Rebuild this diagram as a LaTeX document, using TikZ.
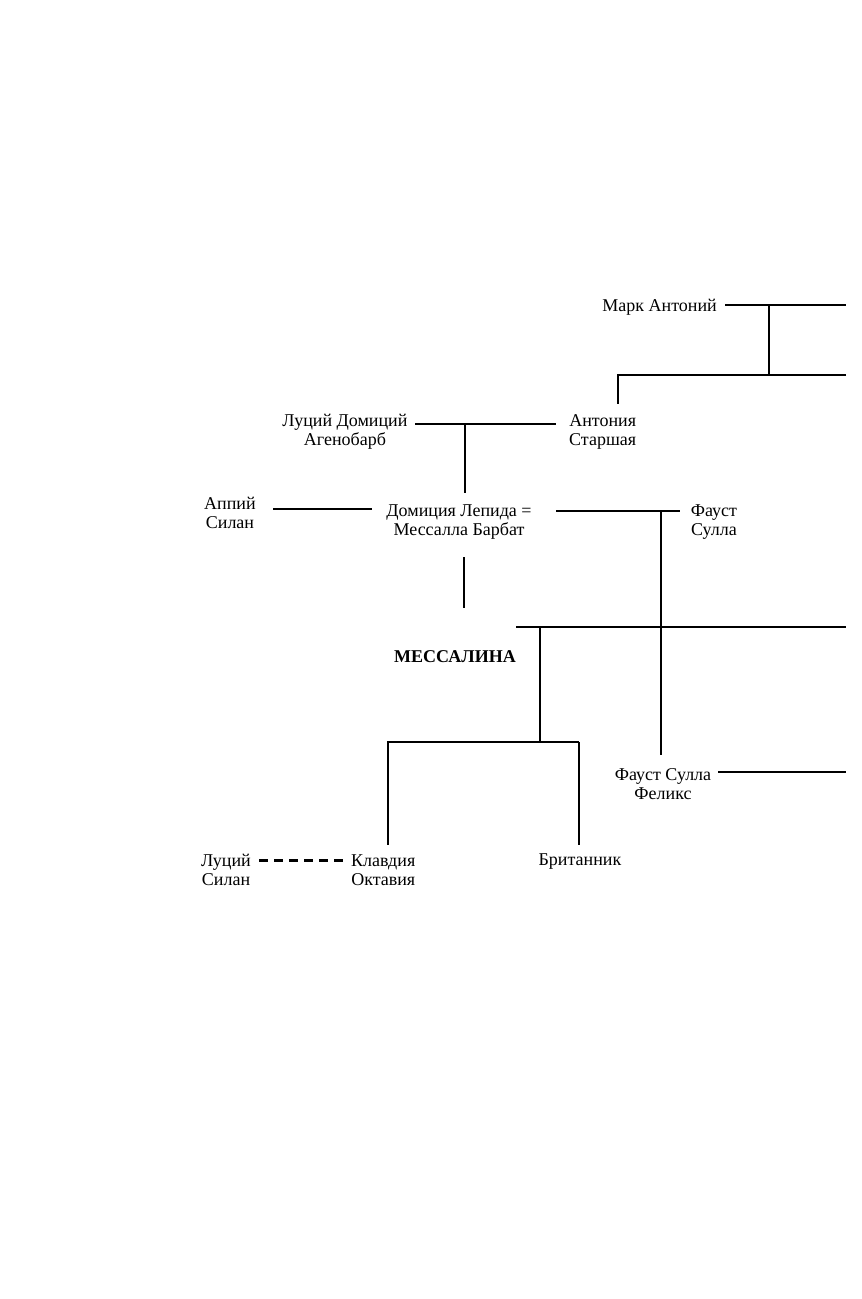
\documentclass[tikz,border=0pt]{standalone}
\usepackage{fontspec}
\setmainfont{Liberation Serif}
\begin{document}
\begin{tikzpicture}[x=1pt,y=-1pt,
  person/.style={align=center,inner sep=0pt,font=\fontsize{18}{19}\selectfont},
  lin/.style={line width=2pt},
  dsh/.style={line width=3pt,dash pattern=on 9pt off 6pt}]
\useasboundingbox (0,0) rectangle (862,1299);
% nodes
\node[person,anchor=east] (marc) at (717,307) {Марк Антоний};
\node[person] (luc) at (345,432) {Луций Домиций\\Агенобарб};
\node[person,anchor=west] (ant) at (569,432) {Антония\\Старшая};
\node[person] (app) at (230,513) {Аппий\\Силан};
\node[person] (dom) at (459,522) {Домиция Лепида =\\Мессалла Барбат};
\node[person] (fau) at (714,522) {Фауст\\Сулла};
\node[person,font=\fontsize{18}{19}\selectfont\bfseries] (mes) at (455,657) {МЕССАЛИНА};
\node[person] (fsf) at (663,784) {Фауст Сулла\\Феликс};
\node[person,anchor=west] (lsi) at (201,870) {Луций\\Силан};
\node[person,anchor=west] (kla) at (351,870) {Клавдия\\Октавия};
\node[person] (bri) at (580,862) {Британник};
% coordinates
\coordinate (mR) at (846,305);
\coordinate (mJ) at (769,305);
\coordinate (aL) at (618,375);
\coordinate (aR) at (846,375);
\coordinate (lJ) at (465,424);
\coordinate (fJ) at (661,511);
\coordinate (mesL) at (516,627);
\coordinate (mesR) at (846,627);
\coordinate (cJ) at (540,627);
\coordinate (kL) at (388,742);
\coordinate (kR) at (579,742);
\coordinate (fR) at (846,772);
% connectors
\draw[lin] (725,305) -- (mR);
\draw[lin] (mJ) -- (mJ|-aR);
\draw[lin] (aR) -- (aL) -- (618,404);
\draw[lin] (415,424) -- (556,424);
\draw[lin] (lJ) -- (465,493);
\draw[lin] (273,509) -- (372,509);
\draw[lin] (556,511) -- (680,511);
\draw[lin] (fJ) -- (661,755);
\draw[lin] (464,557) -- (464,608);
\draw[lin] (mesL) -- (mesR);
\draw[lin] (cJ) -- (540,742);
\draw[lin] (387,742) -- (kR);
\draw[lin] (kL) -- (388,845);
\draw[lin] (kR) -- (579,845);
\draw[lin] (718,772) -- (fR);
\draw[dsh] (259,860) -- (344,860);
\end{tikzpicture}
\end{document}
